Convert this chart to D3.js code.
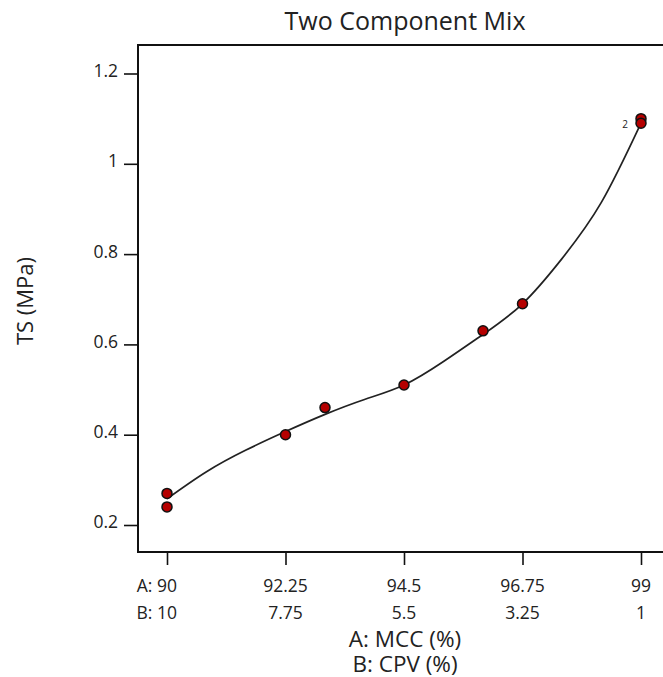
<!DOCTYPE html>
<html>
<head>
<meta charset="utf-8">
<script src="https://cdn.jsdelivr.net/npm/d3@7"></script>
<style>
  html, body { margin: 0; padding: 0; background: #fff; }
  text { font-family: "Open Sans", "Noto Sans", sans-serif; fill: #222; }
</style>
</head>
<body>
<svg id="chart" width="663" height="677"></svg>
<script>
// ---- data ----
const xTickA = [90, 92.25, 94.5, 96.75, 99];
const xTickB = [10, 7.75, 5.5, 3.25, 1];
const yTicks = [0.2, 0.4, 0.6, 0.8, 1, 1.2];

// design points: A: MCC (%) and TS (MPa)
const pointA = [90, 90, 92.25, 93, 94.5, 96, 96.75, 99, 99];
const pointTS = [0.27, 0.24, 0.40, 0.46, 0.51, 0.63, 0.69, 1.10, 1.09];

// fitted model curve
const curveA = [90, 90.75, 91.5, 92.25, 93, 93.75, 94.5, 95.25, 96, 96.75, 97.5, 98.25, 99];
const curveTS = [0.258, 0.318, 0.366, 0.407, 0.445, 0.478, 0.51, 0.562, 0.622, 0.69, 0.79, 0.915, 1.09];

const title = "Two Component Mix";
const yTitle = "TS (MPa)";
const xTitleA = "A: MCC (%)";
const xTitleB = "B: CPV (%)";

// ---- layout ----
const svg = d3.select("#chart");
const frame = {left: 138, top: 45, right: 705, bottom: 552};
const tickFont = "17.5px";

const x = d3.scaleLinear().domain([90, 99]).range([167, 641]);
const y = d3.scaleLinear().domain([0.2, 1.2]).range([525, 73.5]);

// frame
svg.append("rect")
  .attr("x", frame.left).attr("y", frame.top)
  .attr("width", frame.right - frame.left).attr("height", frame.bottom - frame.top)
  .attr("fill", "none").attr("stroke", "#111").attr("stroke-width", 2);

// y axis
const yAxis = d3.axisLeft(y).tickValues(yTicks).tickSize(14).tickPadding(6)
  .tickFormat(d => d3.format("~g")(d));
const gy = svg.append("g").attr("transform", `translate(${frame.left},0)`).call(yAxis);
gy.select(".domain").remove();
gy.selectAll(".tick line").attr("stroke", "#111").attr("stroke-width", 1.6);
gy.selectAll(".tick text").style("font-size", tickFont).attr("fill", "#333")
  .style("font-family", "'Open Sans', sans-serif").attr("dy", "0.17em");

// x axis ticks
const xAxis = d3.axisBottom(x).tickValues(xTickA).tickSize(13).tickFormat("");
const gx = svg.append("g").attr("transform", `translate(0,${frame.bottom})`).call(xAxis);
gx.select(".domain").remove();
gx.selectAll(".tick line").attr("stroke", "#111").attr("stroke-width", 1.6);

// x tick label rows
function labelRow(values, prefix, baseline) {
  const g = svg.append("g");
  values.forEach((v, i) => {
    const cx = x(xTickA[i]);
    const t = g.append("text").attr("x", cx).attr("y", baseline)
      .attr("text-anchor", "middle").style("font-size", tickFont).attr("fill", "#333")
      .text(d3.format("~g")(v));
    if (i === 0) {
      const w = t.node().getComputedTextLength();
      g.append("text").attr("x", cx - w / 2).attr("y", baseline).attr("text-anchor", "end")
        .style("font-size", tickFont).attr("fill", "#333")
        .text(prefix + "\u00a0");
    }
  });
}
labelRow(xTickA, "A:", 592);
labelRow(xTickB, "B:", 619);

// axis titles
svg.append("text").attr("x", 405).attr("y", 647).attr("text-anchor", "middle")
  .style("font-size", "22.5px").text(xTitleA);
svg.append("text").attr("x", 405).attr("y", 672).attr("text-anchor", "middle")
  .style("font-size", "22.5px").text(xTitleB);
svg.append("text").attr("transform", "translate(33,301) rotate(-90)").attr("text-anchor", "middle")
  .style("font-size", "22px").text(yTitle);

// title
svg.append("text").attr("x", 405).attr("y", 29.5).attr("text-anchor", "middle")
  .style("font-size", "25px").text(title);

// curve
const line = d3.line().x(d => x(d[0])).y(d => y(d[1])).curve(d3.curveNatural);
svg.append("path").datum(d3.zip(curveA, curveTS))
  .attr("d", line).attr("fill", "none").attr("stroke", "#222").attr("stroke-width", 1.7);

// points
svg.append("g").selectAll("circle").data(d3.zip(pointA, pointTS)).join("circle")
  .attr("cx", d => x(d[0])).attr("cy", d => y(d[1])).attr("r", 5)
  .attr("fill", "#b50000").attr("stroke", "#111").attr("stroke-width", 1.5);

// replicate count label
svg.append("text").attr("x", 628).attr("y", 128).attr("text-anchor", "end")
  .style("font-size", "10px").attr("fill", "#555").text("2");
</script>
</body>
</html>
